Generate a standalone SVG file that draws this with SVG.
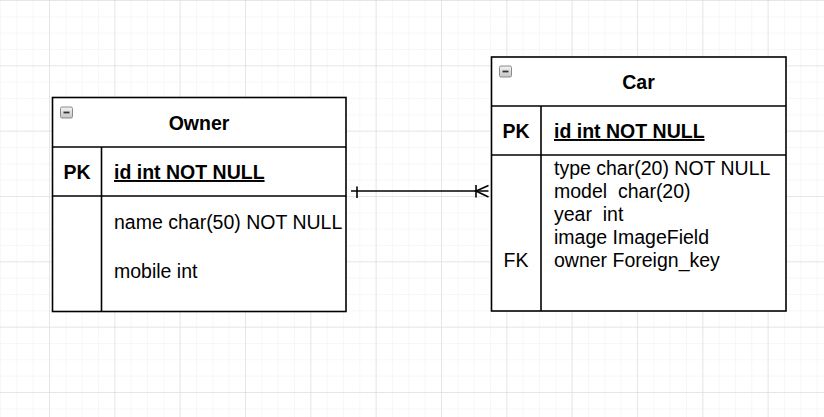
<svg xmlns="http://www.w3.org/2000/svg" width="824" height="417" viewBox="0 0 824 417">
  <defs>
    <pattern id="minor" x="0" y="0" width="16.333" height="16.333" patternUnits="userSpaceOnUse">
      <path d="M0 0 H16.333 M0 0 V16.333" fill="none" stroke="#efefef" stroke-width="1"/>
    </pattern>
    <pattern id="major" x="49" y="65.33" width="65.33" height="65.33" patternUnits="userSpaceOnUse">
      <path d="M0 0 H65.33 M0 0 V65.33" fill="none" stroke="#d6d6d6" stroke-width="1"/>
    </pattern>
    <linearGradient id="iconGrad" x1="0" y1="0" x2="0" y2="1">
      <stop offset="0" stop-color="#f4f4f4"/>
      <stop offset="1" stop-color="#c4c4c4"/>
    </linearGradient>
    <g id="collapse">
      <rect x="0" y="0" width="12" height="11" rx="1.5" fill="url(#iconGrad)" stroke="#8a8a8a" stroke-width="1"/>
      <line x1="3" y1="5.5" x2="9" y2="5.5" stroke="#333" stroke-width="1.8"/>
    </g>
  </defs>
  <style>
    .box { fill: #ffffff; stroke: #000000; stroke-width: 1.6; }
    .sep { stroke: #000000; stroke-width: 1.6; fill: none; }
    .title { font-family: "Liberation Sans", Arial, sans-serif; font-size: 19.5px; font-weight: bold; fill: #000; text-anchor: middle; }
    .key { font-family: "Liberation Sans", Arial, sans-serif; font-size: 19.5px; fill: #000; text-anchor: middle; }
    .keyb { font-weight: bold; }
    .pk { font-family: "Liberation Sans", Arial, sans-serif; font-size: 19.5px; font-weight: bold; fill: #000; text-decoration: underline; }
    .field { font-family: "Liberation Sans", Arial, sans-serif; font-size: 19.5px; fill: #000; }
    .conn { stroke: #000000; stroke-width: 1.6; fill: none; }
  </style>

  <rect x="0" y="0" width="824" height="417" fill="#ffffff"/>
  <rect x="0" y="0" width="824" height="417" fill="url(#minor)"/>
  <rect x="0" y="0" width="824" height="417" fill="url(#major)"/>

  <g id="owner">
    <rect class="box" x="52.5" y="97.5" width="293.5" height="214"/>
    <line class="sep" x1="52.5" y1="147" x2="346" y2="147"/>
    <line class="sep" x1="52.5" y1="196" x2="346" y2="196"/>
    <line class="sep" x1="101.5" y1="147" x2="101.5" y2="311.5"/>
    <use href="#collapse" x="60.5" y="107"/>
    <text class="title" x="199" y="130">Owner</text>
    <text class="key keyb" x="77" y="179">PK</text>
    <text class="pk" x="114" y="179">id int NOT NULL</text>
    <text class="field" x="114" y="229">name char(50) NOT NULL</text>
    <text class="field" x="114" y="278">mobile int</text>
  </g>

  <g id="car">
    <rect class="box" x="491.5" y="57" width="294.5" height="254"/>
    <line class="sep" x1="491.5" y1="106" x2="786" y2="106"/>
    <line class="sep" x1="491.5" y1="155" x2="786" y2="155"/>
    <line class="sep" x1="541" y1="106" x2="541" y2="311"/>
    <use href="#collapse" x="499.5" y="66"/>
    <text class="title" x="638.5" y="89">Car</text>
    <text class="key keyb" x="516" y="138">PK</text>
    <text class="pk" x="554" y="138">id int NOT NULL</text>
    <text class="field" x="554" y="175">type char(20) NOT NULL</text>
    <text class="field" x="554" y="198" xml:space="preserve">model  char(20)</text>
    <text class="field" x="554" y="221" xml:space="preserve">year  int</text>
    <text class="field" x="554" y="244">image ImageField</text>
    <text class="field" x="554" y="267">owner Foreign_key</text>
    <text class="key" x="516" y="267">FK</text>
  </g>

  <g id="connectors">
    <line class="conn" x1="351" y1="191" x2="488.5" y2="191"/>
    <line class="conn" x1="357" y1="186.5" x2="357" y2="198"/>
    <line class="conn" x1="476" y1="185" x2="476" y2="197.5"/>
    <polyline class="conn" points="488.5,185.5 476,191 488.5,197"/>
  </g>
</svg>
